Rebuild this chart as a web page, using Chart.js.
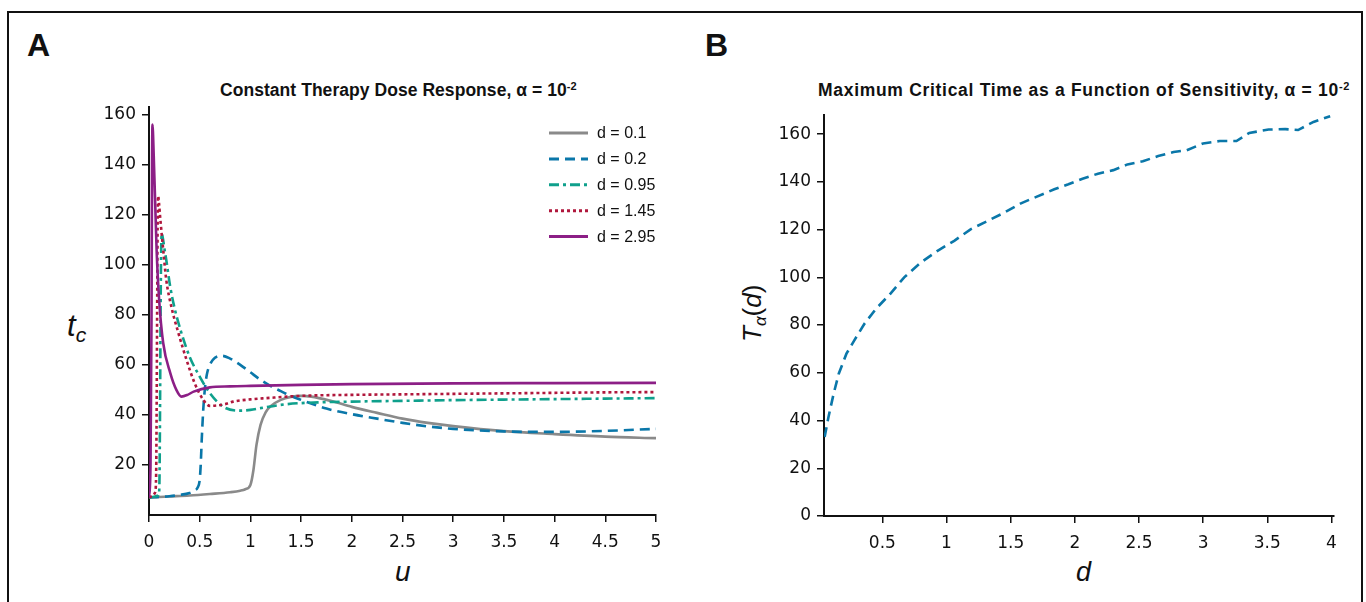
<!DOCTYPE html>
<html>
<head>
<meta charset="utf-8">
<script src="https://cdn.jsdelivr.net/npm/chart.js@4.4.1/dist/chart.umd.min.js"></script>
<style>
  body { margin: 0; background: #fff; width: 1366px; height: 602px; overflow: hidden; position: relative;
         font-family: "Liberation Sans", Arial, sans-serif; color: #111; }
  #frame { position: absolute; left: 7px; top: 11px; width: 1356px; height: 640px; border: 2px solid #111; box-sizing: border-box; }
  .panel { position: absolute; font-weight: bold; font-size: 32px; line-height: 32px; }
  .title { position: absolute; font-family: "Liberation Sans Narrow", "Liberation Sans", sans-serif; font-weight: bold;
           font-size: 17.5px; line-height: 20px; white-space: nowrap; }
  .title sup { font-size: 11px; vertical-align: 6px; }
  .axt { position: absolute; font-size: 26px; line-height: 30px; white-space: nowrap; }
  .axt i { font-style: italic; }
  .axt sub { font-size: 17px; vertical-align: -5px; }
  canvas { position: absolute; }
</style>
</head>
<body>
<div id="frame"></div>
<div class="panel" style="left:27px;top:29px">A</div>
<div class="panel" style="left:705px;top:29px">B</div>
<div class="title" style="left:220px;top:76px;letter-spacing:0.05px">Constant Therapy Dose Response, α = 10<sup>-2</sup></div>
<div class="title" style="left:818px;top:76px;letter-spacing:0.7px">Maximum Critical Time as a Function of Sensitivity, α = 10<sup>-2</sup></div>
<div class="axt" style="left:67px;top:309px;font-size:31px;line-height:34px"><i>t</i><sub style="font-size:21px;vertical-align:-6px"><i>c</i></sub></div>
<div class="axt" style="left:395px;top:557px;font-size:28px"><i>u</i></div>
<div class="axt" style="left:1076px;top:557px;font-size:27px"><i>d</i></div>
<div class="axt" style="left:719px;top:294px;transform:rotate(-90deg);transform-origin:33px 15px"><i>T</i><sub><i>α</i></sub>(<i>d</i>)</div>

<canvas id="chartA" width="680" height="540" style="left:10px;top:60px"></canvas>
<canvas id="chartB" width="670" height="540" style="left:690px;top:60px"></canvas>

<script>
// tick labels
const xTicksA = [0, 0.5, 1, 1.5, 2, 2.5, 3, 3.5, 4, 4.5, 5];
const yTicksA = [20, 40, 60, 80, 100, 120, 140, 160];
const xTicksB = [0.5, 1, 1.5, 2, 2.5, 3, 3.5, 4];
const yTicksB = [0, 20, 40, 60, 80, 100, 120, 140, 160];

// panel A: critical time vs dose u, one curve per sensitivity d
const doseLabels = ['d = 0.1', 'd = 0.2', 'd = 0.95', 'd = 1.45', 'd = 2.95'];

const uD01 = [0, 0.2, 0.4, 0.6, 0.8, 0.9, 0.95, 1.0, 1.03, 1.06, 1.1, 1.15, 1.2, 1.3, 1.4, 1.5, 1.6, 1.8, 2.0, 2.25, 2.5, 2.75, 3.0, 3.5, 4.0, 4.5, 5.0];
const tD01 = [7, 7.4, 7.8, 8.4, 9.1, 9.7, 10.3, 12, 18, 28, 36, 41, 43.5, 46, 47.2, 47.6, 47.3, 45.5, 43.2, 40.8, 38.5, 36.8, 35.5, 33.5, 32.3, 31.3, 30.7];

const uD02 = [0, 0.1, 0.2, 0.3, 0.4, 0.45, 0.48, 0.5, 0.51, 0.52, 0.535, 0.55, 0.57, 0.6, 0.65, 0.72, 0.8, 0.9, 1.0, 1.1, 1.2, 1.3, 1.4, 1.5, 1.75, 2.0, 2.25, 2.5, 2.75, 3.0, 3.25, 3.5, 3.75, 4.0, 4.5, 5.0];
const tD02 = [7, 7.2, 7.5, 8, 8.8, 9.8, 11, 14, 20, 30, 42, 50, 56, 60, 62.8, 63.6, 62.5, 60, 57, 54, 51.5, 49.5, 47.5, 46, 42.5, 40.3, 38.5, 36.8, 35.4, 34.4, 33.8, 33.4, 33.2, 33.2, 33.6, 34.4];

const uD095 = [0, 0.05, 0.09, 0.1, 0.105, 0.11, 0.115, 0.12, 0.125, 0.135, 0.15, 0.17, 0.21, 0.256, 0.32, 0.4, 0.5, 0.6, 0.73, 0.9, 1.0, 1.1, 1.3, 1.5, 2.0, 2.5, 3.0, 3.5, 4.0, 4.5, 5.0];
const tD095 = [7, 7.3, 7.8, 9, 20, 50, 85, 105, 112.5, 111, 107, 102, 91, 82, 72.7, 63.3, 55.3, 48.7, 43.3, 41.7, 42, 42.7, 44, 44.7, 45.3, 45.6, 45.9, 46.1, 46.3, 46.5, 46.7];

const uD145 = [0, 0.03, 0.06, 0.07, 0.075, 0.08, 0.085, 0.09, 0.1, 0.11, 0.14, 0.17, 0.22, 0.29, 0.37, 0.45, 0.535, 0.6, 0.75, 0.83, 1.0, 1.16, 1.5, 2.0, 2.5, 3.0, 3.5, 4.0, 4.5, 5.0];
const tD145 = [7, 7.5, 9, 15, 40, 80, 115, 127.5, 124, 119, 106, 94, 83.3, 72.7, 62, 52.7, 46, 43.6, 44.3, 45.3, 46.2, 46.7, 47.6, 48, 48.2, 48.4, 48.6, 48.8, 49, 49.1];

const uD295 = [0, 0.015, 0.025, 0.03, 0.035, 0.04, 0.05, 0.06, 0.075, 0.1, 0.14, 0.21, 0.27, 0.32, 0.38, 0.44, 0.6, 0.8, 1.0, 1.5, 2.0, 3.0, 4.0, 5.0];
const tD295 = [7, 20, 80, 140, 156, 152, 139, 126, 106, 86, 68.7, 56.7, 50, 47.3, 48, 49.3, 51, 51.4, 51.6, 52, 52.3, 52.6, 52.7, 52.8];

// panel B: maximum critical time vs sensitivity d
const dSens = [0.05, 0.08, 0.12, 0.16, 0.22, 0.28, 0.36, 0.45, 0.56, 0.67, 0.8, 0.93, 1.06, 1.19, 1.32, 1.45, 1.58, 1.7, 1.84, 1.95, 2.06, 2.18, 2.3, 2.41, 2.53, 2.65, 2.77, 2.87, 3.0, 3.13, 3.26, 3.36, 3.51, 3.64, 3.74, 3.86, 3.99];
const tMax = [33.1, 41.5, 51.2, 59.6, 68, 73.5, 80.5, 86.8, 93, 100, 106.2, 111.1, 115.3, 120.2, 123.6, 127.1, 131, 133.7, 136.9, 139, 141.3, 143.4, 144.9, 147.3, 148.6, 150.8, 152.5, 153.2, 156.1, 157.1, 157.1, 160.5, 161.9, 162.1, 161.7, 165.1, 167.5];

const pts = (xs, ys) => xs.map((x, i) => ({ x: x, y: ys[i] }));

Chart.defaults.font.family = 'DejaVu Sans';
Chart.defaults.color = '#111';

function axis(min, max, ticks, size, isX) {
  return {
    type: 'linear', min: min, max: max,
    afterBuildTicks: s => { s.ticks = ticks.map(v => ({ value: v })); },
    afterFit: s => { if (isX) s.height = size; else s.width = size; },
    grid: { drawOnChartArea: false, color: '#111', lineWidth: 1.5, tickLength: 7 },
    border: { color: '#111', width: 2 },
    ticks: { font: { size: 17 }, padding: isX ? 10 : 6, maxRotation: 0, autoSkip: false, callback: v => String(v) }
  };
}

// legend drawn inside the plot: line sample then label
function drawLegend(chart, datasets) {
  const { ctx, chartArea } = chart;
  ctx.save();
  datasets.forEach((ds, i) => {
    const y = chartArea.top + 26 + i * 25.9;
    ctx.strokeStyle = ds.borderColor;
    ctx.lineWidth = 3;
    ctx.setLineDash(ds.borderDash || []);
    ctx.beginPath();
    ctx.moveTo(chartArea.right - 107, y);
    ctx.lineTo(chartArea.right - 68, y);
    ctx.stroke();
    ctx.setLineDash([]);
    ctx.fillStyle = '#111';
    ctx.font = '16px "Liberation Sans"';
    ctx.textBaseline = 'middle';
    ctx.fillText(ds.label, chartArea.right - 59, y + 1);
  });
  ctx.restore();
}

const colors = ['#8a8a8a', '#0a77a9', '#0fa08c', '#b0173c', '#8c1f86'];
const dashes = [[], [10, 6], [10, 4, 3, 4], [3, 3], []];
const seriesU = [uD01, uD02, uD095, uD145, uD295];
const seriesT = [tD01, tD02, tD095, tD145, tD295];

const setsA = doseLabels.map((lab, i) => ({
  label: lab,
  data: pts(seriesU[i], seriesT[i]),
  borderColor: colors[i],
  borderWidth: 2.6,
  borderDash: dashes[i],
  pointRadius: 0,
  cubicInterpolationMode: 'monotone',
  fill: false
}));

new Chart(document.getElementById('chartA'), {
  type: 'line',
  // reversed so the d = 2.95 curve sits on top
  data: { datasets: setsA.slice().reverse() },
  options: {
    responsive: false, animation: false, devicePixelRatio: 1,
    layout: { padding: { left: 79, top: 47, right: 34, bottom: 35 } },
    plugins: { legend: { display: false }, tooltip: { enabled: false } },
    scales: { x: axis(0, 5, xTicksA, 50, true), y: axis(0, 163, yTicksA, 60, false) }
  },
  plugins: [{ id: 'insideLegend', afterDatasetsDraw: chart => drawLegend(chart, setsA) }]
});

new Chart(document.getElementById('chartB'), {
  type: 'line',
  data: {
    datasets: [{
      label: 'T',
      data: pts(dSens, tMax),
      borderColor: '#0a77a9',
      borderWidth: 2.6,
      borderDash: [10, 6],
      pointRadius: 0,
      tension: 0,
      fill: false
    }]
  },
  options: {
    responsive: false, animation: false, devicePixelRatio: 1,
    layout: { padding: { left: 74, top: 55, right: 26, bottom: 34 } },
    plugins: { legend: { display: false }, tooltip: { enabled: false } },
    scales: { x: axis(0.045, 4.02, xTicksB, 50, true), y: axis(0, 168, yTicksB, 60, false) }
  }
});
</script>
</body>
</html>
